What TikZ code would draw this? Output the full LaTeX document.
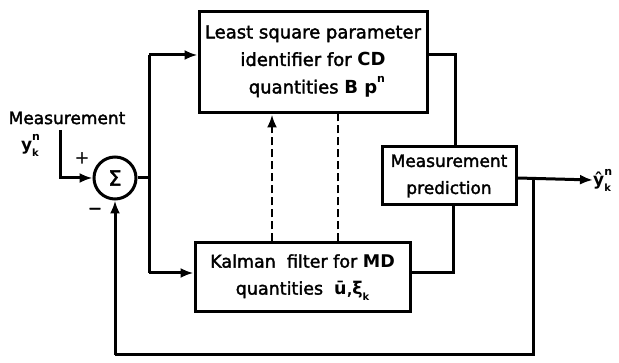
\documentclass[tikz,border=0pt]{standalone}
\usepackage{fontspec}
\setmainfont{DejaVu Sans}[UprightFeatures={FakeBold=2}]
\usetikzlibrary{arrows.meta}
\newcommand{\ud}[2]{\rlap{\raisebox{0.6em}{\fontsize{11}{11}\selectfont\bfseries #1}}\raisebox{-0.35em}{\fontsize{10}{10}\selectfont\bfseries #2}}
\tikzset{
  blk/.style={draw, line width=3pt, align=center, inner sep=0pt, font=\fontsize{17}{27}\selectfont},
  ln/.style={line width=3pt},
  arr/.style={line width=3pt, -{Latex[length=13pt,width=10pt]}},
  lbl/.style={font=\fontsize{17}{20}\selectfont, inner sep=0pt},
}
\begin{document}
\begin{tikzpicture}[x=1pt,y=-1pt]
\useasboundingbox (0,0) rectangle (619,363);
% blocks
\node[blk, minimum width=228pt, minimum height=101pt, font=\fontsize{18}{27.5}\selectfont] (LS) at (313,62.5)
  {Least square parameter\\identifier for \textbf{CD}\\quantities \textbf{B p}\ud{n}{}};
\node[blk, minimum width=215pt, minimum height=69pt, font=\fontsize{17.5}{27}\selectfont] (KF) at (302.5,277.5)
  {Kalman \ filter for \textbf{MD}\\quantities \ \textbf{ū},\textbf{ξ}\ud{}{k}};
\node[blk, minimum width=134pt, minimum height=58pt] (MP) at (449,176)
  {Measurement\\prediction};
\node[draw, circle, line width=3pt, minimum size=42pt, inner sep=0pt,
  font=\fontsize{21}{21}\selectfont] (S) at (115,178) {Σ};
% labels
\node[lbl] (meas) at (67,118) {Measurement};
\node[lbl] (yin) at (30,145) {\textbf{y}\ud{n}{k}};
\node[lbl] (plus) at (82,158) {+};
\node[lbl] (minus) at (95,211) {−};
\node[lbl, anchor=west] (yout) at (593,180) {\textbf{ŷ}\ud{n}{k}};
% coordinates
\coordinate (in0) at (60,130);
\coordinate (j) at (149,178);
\coordinate (jt) at (149,55);
\coordinate (jb) at (149,273);
\coordinate (lsR) at (455,55);
\coordinate (kfR) at (453,273);
\coordinate (br) at (533,178);
\coordinate (fbR) at (533,355);
\coordinate (fbL) at (115,355);
% connectors
\draw[arr] (in0) |- (S.west);
\draw[ln] (S.east) -- (j);
\draw[ln] (jt) -- (jb);
\draw[arr] (jt) -- (jt -| LS.west);
\draw[arr] (jb) -- (jb -| KF.west);
\draw[ln] (lsR -| LS.east) -- (lsR) -- (lsR |- MP.north);
\draw[ln] (kfR -| KF.east) -- (kfR) -- (kfR |- MP.south);
\draw[arr] (MP.east |- br) -- (yout.west);
\draw[ln] (br) -- (fbR) -- (fbL);
\draw[arr] (fbL) -- (S.south);
\draw[line width=2.8pt, dash pattern=on 8pt off 4pt, -{Latex[length=13pt,width=10pt]}]
  (KF.north -| 272,0) -- (LS.south -| 272,0);
\draw[line width=2.8pt, dash pattern=on 8pt off 4pt]
  (KF.north -| 338,0) -- (LS.south -| 338,0);
\end{tikzpicture}
\end{document}
